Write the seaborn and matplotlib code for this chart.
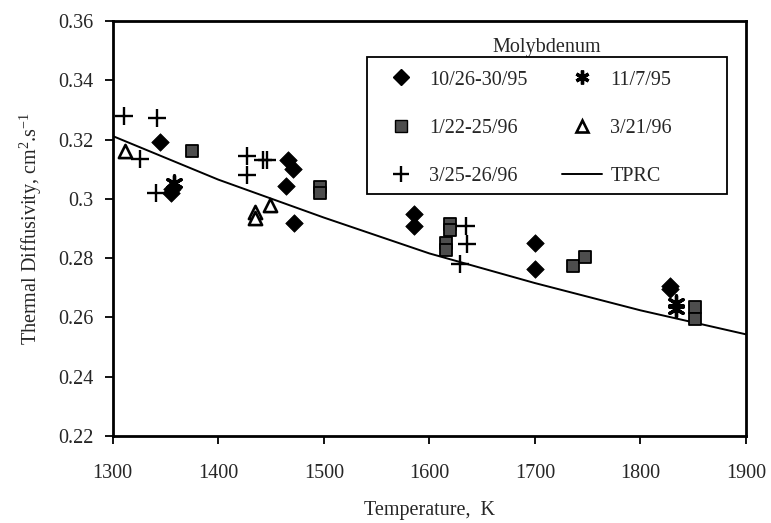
import matplotlib
matplotlib.use("Agg")
import matplotlib.pyplot as plt
import seaborn as sns
import pandas as pd
from matplotlib.lines import Line2D
from matplotlib.patches import Rectangle

sns.set_style("white")
plt.rcParams['font.family'] = ['Liberation Serif', 'DejaVu Serif']
plt.rcParams['mathtext.fontset'] = 'custom'
plt.rcParams['mathtext.rm'] = 'Liberation Serif'
plt.rcParams['mathtext.it'] = 'Liberation Serif:italic'

# Data
s1_label = "10/26-30/95"
s1_T = [1345, 1355, 1356, 1466, 1471, 1464, 1472, 1585, 1585, 1700, 1700, 1828, 1828]
s1_a = [0.3193, 0.3020, 0.3035, 0.3130, 0.3100, 0.3043, 0.2920, 0.2950, 0.2910, 0.2850, 0.2762, 0.2705, 0.2695]

s2_label = "11/7/95"
s2_T = [1358, 1834, 1834]
s2_a = [0.3055, 0.2650, 0.2630]

s3_label = "1/22-25/96"
s3_T = [1375, 1496, 1496, 1620, 1620, 1616, 1616, 1736, 1747, 1852, 1852]
s3_a = [0.3163, 0.3040, 0.3020, 0.2915, 0.2895, 0.2850, 0.2828, 0.2773, 0.2803, 0.2635, 0.2595]

s4_label = "3/21/96"
s4_T = [1312, 1435, 1435, 1449]
s4_a = [0.3160, 0.2955, 0.2935, 0.2980]

s5_label = "3/25-26/96"
s5_T = [1311, 1342, 1326, 1341, 1427, 1427, 1442, 1446, 1635, 1636, 1629]
s5_a = [0.3280, 0.3272, 0.3134, 0.3020, 0.3143, 0.3080, 0.3130, 0.3130, 0.2908, 0.2848, 0.2780]

tprc_label = "TPRC"
tprc_T = [1300, 1400, 1500, 1600, 1700, 1800, 1900]
tprc_a = [0.3212, 0.3065, 0.2937, 0.2816, 0.2716, 0.2624, 0.2543]

xticks = [1300, 1400, 1500, 1600, 1700, 1800, 1900]
yticks = [0.22, 0.24, 0.26, 0.28, 0.30, 0.32, 0.34, 0.36]
yticklabels = ["0.22", "0.24", "0.26", "0.28", "0.3", "0.32", "0.34", "0.36"]

fig = plt.figure(figsize=(7.71, 5.23), dpi=100)
ax = fig.add_axes([0.1462, 0.1663, 0.8214, 0.7935])

FS = 14.5

tprc_df = pd.DataFrame({"T": tprc_T, "a": tprc_a})
sns.lineplot(data=tprc_df, x="T", y="a", ax=ax, color="black", lw=1.4, legend=False)

def scat(T, a, **kw):
    df = pd.DataFrame({"T": T, "a": a})
    sns.scatterplot(data=df, x="T", y="a", ax=ax, legend=False, zorder=3, **kw)

scat(s1_T, s1_a, marker="D", s=80, color="black", edgecolor="black", linewidth=0.5)
scat(s2_T, s2_a, marker=(6, 2, 0), s=120, color="black", linewidth=2.4)
scat(s3_T, s3_a, marker="s", s=80, facecolor="0.3", edgecolor="black", linewidth=1.3)
scat(s4_T, s4_a, marker="^", s=90, facecolor="white", edgecolor="black", linewidth=1.9)
scat(s5_T, s5_a, marker="+", s=160, color="black", linewidth=1.7)

ax.set_xlim(1300, 1900)
ax.set_ylim(0.22, 0.36)
ax.set_xticks(xticks)
ax.set_xticklabels([str(t) for t in xticks], fontsize=FS)
ax.set_yticks(yticks)
ax.set_yticklabels(yticklabels, fontsize=FS)
ax.tick_params(axis="both", which="major", bottom=True, left=True,
               direction="out", length=6, width=1.3, color="black")
ax.tick_params(axis="y", pad=8)
ax.tick_params(axis="x", pad=14)
for sp in ax.spines.values():
    sp.set_visible(True)
    sp.set_color("black")
    sp.set_linewidth(2)

ax.set_xlabel("Temperature,  K", fontsize=FS, labelpad=13)
ax.set_ylabel(r"Thermal Diffusivity, cm$^{2}$.s$^{-1}$", fontsize=FS, labelpad=10)

handles = [
    Line2D([], [], ls="", marker="D", markersize=8, color="black"),
    Line2D([], [], ls="", marker="s", markersize=8, markerfacecolor="0.3", markeredgecolor="black"),
    Line2D([], [], ls="", marker="+", markersize=12, color="black", markeredgewidth=1.7),
    Line2D([], [], ls="", marker=(6, 2, 0), markersize=10, color="black", markeredgewidth=2.4),
    Line2D([], [], ls="", marker="^", markersize=9, markerfacecolor="white", markeredgecolor="black", markeredgewidth=1.9),
    Line2D([], [], color="black", lw=1.4),
]
labels = [s1_label, s3_label, s5_label, s2_label, s4_label, tprc_label]
leg = ax.legend(handles, labels, ncol=2, loc="upper left",
                bbox_to_anchor=(0.4237, 0.881),
                fontsize=FS, frameon=False, labelspacing=1.45, handlelength=2.0,
                handletextpad=0.4, columnspacing=1.7, borderpad=0,
                borderaxespad=0)
ax.add_patch(Rectangle((0.4016, 0.5831), 0.5685, 0.3301, transform=ax.transAxes,
                       facecolor="none", edgecolor="black", lw=1.3, zorder=5))
ax.text(0.6855, 0.937, "Molybdenum", transform=ax.transAxes, ha="center",
        va="center", fontsize=FS)

fig.savefig("out.png", dpi=100)
